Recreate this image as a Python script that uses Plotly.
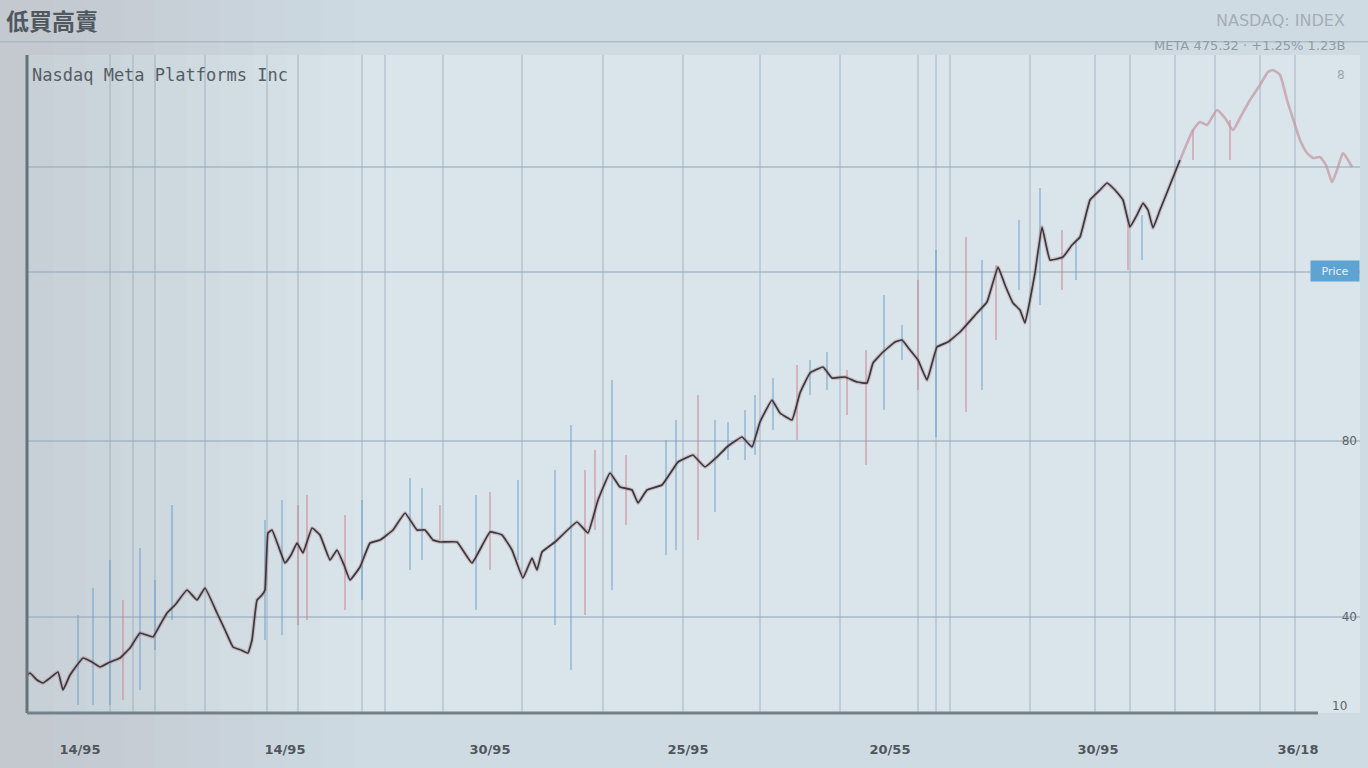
import plotly.graph_objects as go

# ---- data ----
days = [0, 3, 10, 16, 23, 31, 36, 43, 56, 65,
        73, 83, 93, 103, 113, 126, 133, 140, 148, 160,
        170, 178, 190, 198, 206, 214, 221, 225, 230, 235,
        238, 241, 245, 251, 258, 264, 270, 276, 285, 293,
        303, 310, 317, 323, 333, 343, 353, 366, 378, 390,
        398, 406, 413, 430, 445, 463, 475, 485, 496, 505,
        510, 515, 528, 550, 561, 571, 583, 593, 605, 611,
        620, 635, 651, 661, 666, 678, 690, 700, 715, 725,
        733, 745, 753, 765, 773, 783, 796, 805, 818, 830,
        840, 846, 856, 868, 875, 883, 891, 900, 910, 921,
        933, 950, 960, 971, 978, 986, 993, 998, 1003, 1008,
        1015, 1023, 1036, 1045, 1053, 1063, 1073, 1080, 1088, 1096,
        1103, 1110, 1116, 1121, 1126, 1133, 1143, 1153, 1158, 1166,
        1173, 1180, 1190, 1198, 1206, 1213, 1223, 1233, 1241, 1246,
        1253, 1260, 1268, 1273, 1280, 1286, 1293, 1299, 1305, 1310,
        1316, 1321, 1325]

close = [22.5, 23.5, 20, 18.5, 21, 24, 15, 22.5, 31, 29,
         26.5, 29, 31, 36, 43.5, 41.5, 47.5, 53.5, 57.5, 65,
         60, 66, 53.5, 45, 36.5, 35, 33.5, 40, 60, 62.5,
         65, 93.5, 95, 87.5, 78.5, 82.5, 88.5, 83.5, 96, 92.5,
         80, 85, 77.5, 70, 76.5, 88.5, 90, 95, 103.5, 95,
         95, 90, 89, 89, 78.5, 94, 92.5, 85, 71, 81,
         75, 84, 89, 99, 93.5, 110, 123.5, 116.5, 115, 108.5,
         115, 117.5, 129, 131.5, 132.5, 126.5, 131.5, 136.5, 141.5, 136.5,
         149, 160, 153.5, 150, 163.5, 173.5, 176.5, 171, 171.5, 169,
         168.5, 178.5, 184, 189, 190, 185, 180, 170, 186.5, 189,
         194, 203.5, 209, 226.5, 217.5, 208.5, 205, 198.5, 210, 223.5,
         246.5, 230, 231.5, 237.5, 241.5, 260, 265, 268.5, 265, 260,
         246.5, 252.5, 258.5, 255, 246, 255, 267.5, 280, 286, 295,
         299, 297.5, 305, 301, 295, 301, 310, 317.5, 324, 325,
         322.5, 310, 297.5, 290, 283.5, 281, 281.5, 277.5, 269, 275,
         283.5, 280, 276.5]

wick_day = [51, 66, 83, 96, 113, 128, 145, 238, 255, 271, 280, 318, 335, 383, 395,
            413, 449, 463, 491, 528, 544, 558, 568, 585, 599, 639, 649, 671, 688, 701,
            718, 728, 746, 770, 783, 800, 820, 839, 857, 875, 891, 909, 939, 955, 969,
            992, 1013, 1035, 1049, 1101, 1115, 1166, 1203]
wick_high = [52.5, 66, 80, 60, 86, 70, 107.5, 100, 110, 107.5, 112.5, 102.5, 110, 121, 116,
             107.5, 112.5, 114, 120, 125, 147.5, 125, 135, 170, 132.5, 140, 150, 162.5, 150, 149,
             155, 162.5, 171, 177.5, 180, 184, 175, 185, 212.5, 197.5, 220, 235, 241.5, 230, 227.5,
             250, 266, 245, 240, 250, 252.5, 295, 300]
wick_low = [7.5, 7.5, 7.5, 10, 15, 35, 50, 40, 42.5, 47.5, 50, 55, 60, 75, 80,
            90, 55, 75, 80, 47.5, 25, 52.5, 95, 65, 97.5, 82.5, 85, 90, 104, 130,
            130, 132.5, 145, 140, 162.5, 165, 152.5, 127.5, 155, 180, 165, 141.5, 154, 165, 190,
            215, 207.5, 215, 220, 225, 230, 280, 280]
wick_dir = ["up", "up", "up", "down", "up", "up", "up", "up", "up", "down", "down", "down", "up", "up", "up",
            "down", "up", "down", "up", "up", "up", "down", "down", "up", "down", "up", "up", "down", "up", "up",
            "up", "up", "up", "down", "up", "up", "down", "down", "up", "up", "down", "up", "down", "up", "down",
            "up", "up", "down", "up", "down", "up", "down", "down"]

x_tick_days = [53, 258, 463, 661, 863, 1071, 1271]
x_tick_text = ["14/95", "14/95", "30/95", "25/95", "20/55", "30/95", "36/18"]
y_grid_vals = [51.5, 139.5, 224, 276.5]
y_grid_text = ["40", "80", "", ""]
grid_days = [83, 106, 128, 178, 240, 271, 335, 358, 416, 495, 576, 656, 733, 813,
             891, 909, 923, 1003, 1068, 1103, 1148, 1188, 1233, 1268]

title_text = "低買高賣"
subtitle_text = "Nasdaq Meta Platforms Inc"
corner_line1 = "NASDAQ: INDEX"
corner_line2 = "META 475.32 · +1.25% 1.23B"
price_tag = "Price"

# ---- figure ----
fig = go.Figure()

# wicks
for direction, col in [("up", "rgba(95,155,200,0.45)"), ("down", "rgba(205,120,130,0.45)")]:
    xs, ys = [], []
    for d, h, l, w in zip(wick_day, wick_high, wick_low, wick_dir):
        if w == direction:
            xs += [d, d, None]
            ys += [l, h, None]
    fig.add_trace(go.Scatter(x=xs, y=ys, mode="lines", line=dict(color=col, width=2),
                             hoverinfo="skip", showlegend=False))

split = days.index(1153)
# reddish halo under the price line
fig.add_trace(go.Scatter(x=days[:split + 1], y=close[:split + 1], mode="lines",
                         line=dict(color="rgba(185,100,110,0.30)", width=4, shape="spline", smoothing=0.3),
                         hoverinfo="skip", showlegend=False))
fig.add_trace(go.Scatter(x=days[:split + 1], y=close[:split + 1], mode="lines",
                         line=dict(color="#353b3e", width=1.7, shape="spline", smoothing=0.3),
                         name="Close", showlegend=False))
# faded upper-right section
fig.add_trace(go.Scatter(x=days[split:], y=close[split:], mode="lines",
                         line=dict(color="rgba(195,150,158,0.7)", width=2.6, shape="spline", smoothing=0.5),
                         hoverinfo="skip", showlegend=False))

shapes = []
# soft left vignette (many faint stacked bands -> gradient)
for i in range(10):
    shapes.append(dict(type="rect", xref="paper", yref="paper", x0=-0.03, x1=0.02 + i * 0.025,
                       y0=-0.09, y1=1.09,
                       fillcolor="rgba(140,162,178,0.018)", line=dict(width=0), layer="below"))
for g in grid_days:
    shapes.append(dict(type="line", xref="x", yref="y domain", x0=g, x1=g, y0=0, y1=1,
                       line=dict(color="rgba(150,170,185,0.5)", width=1.6), layer="below"))
# left axis and bottom axis lines
shapes.append(dict(type="line", xref="x domain", yref="y domain", x0=0, x1=0, y0=0, y1=1,
                   line=dict(color="#66737c", width=3)))
shapes.append(dict(type="line", xref="x domain", yref="y domain", x0=0, x1=0.9685, y0=0, y1=0,
                   line=dict(color="#74818a", width=3)))
# header separator
shapes.append(dict(type="line", xref="paper", yref="paper", x0=-0.03, x1=1.01, y0=1.02, y1=1.02,
                   line=dict(color="rgba(160,178,190,0.7)", width=1.5)))

annotations = [
    dict(text=title_text, xref="paper", yref="paper", x=-0.017, y=1.053, xanchor="left", yanchor="middle",
         showarrow=False, font=dict(family="Noto Sans CJK SC", size=23, color="#4f585f", weight="bold")),
    dict(text=subtitle_text, xref="paper", yref="paper", x=0.002, y=0.97, xanchor="left", yanchor="middle",
         showarrow=False, font=dict(family="DejaVu Sans Mono", size=17, color="#555d63")),
    dict(text=corner_line1, xref="paper", yref="paper", x=0.99, y=1.053, xanchor="right", yanchor="middle",
         showarrow=False, font=dict(family="DejaVu Sans", size=16, color="#a3aeb6")),
    dict(text=corner_line2, xref="paper", yref="paper", x=0.99, y=1.015, xanchor="right", yanchor="middle",
         showarrow=False, font=dict(family="DejaVu Sans", size=13, color="#909ca4")),
    dict(text=price_tag, xref="paper", yref="y", x=1.0, y=224.5, xanchor="right", yanchor="middle",
         showarrow=False, bgcolor="#5fa3d3", width=46, height=18,
         font=dict(family="DejaVu Sans", size=11, color="#e8f2fa")),
    dict(text="10", xref="paper", yref="y", x=0.992, y=7, xanchor="right", yanchor="middle",
         showarrow=False, font=dict(family="DejaVu Sans", size=12, color="#5b646a")),
    dict(text="8", xref="paper", yref="y", x=0.99, y=322.5, xanchor="right", yanchor="middle",
         showarrow=False, font=dict(family="DejaVu Sans", size=12, color="#9aa5ad")),
]

fig.update_layout(
    width=1368, height=768,
    margin=dict(l=27, r=8, t=55, b=55),
    paper_bgcolor="#cfdbe3",
    plot_bgcolor="#d9e4eb",
    showlegend=False,
    shapes=shapes,
    annotations=annotations,
    xaxis=dict(range=[0, 1333], tickmode="array", tickvals=x_tick_days, ticktext=x_tick_text,
               showgrid=False, zeroline=False, showline=False,
               ticks="outside", ticklen=24, tickcolor="rgba(0,0,0,0)",
               tickfont=dict(family="DejaVu Sans", size=13, color="#4f575d", weight="bold")),
    yaxis=dict(range=[3.5, 332.5], side="right", ticklabelposition="inside",
               tickmode="array", tickvals=y_grid_vals, ticktext=y_grid_text,
               showgrid=True, gridcolor="rgba(150,170,185,0.55)", gridwidth=1.6,
               zeroline=False, showline=False,
               tickfont=dict(family="DejaVu Sans", size=12, color="#5b646a")),
)

fig.write_html("out.html", config={"displayModeBar": False},
               post_script="document.body.style.margin='0';document.body.style.overflow='hidden';")
